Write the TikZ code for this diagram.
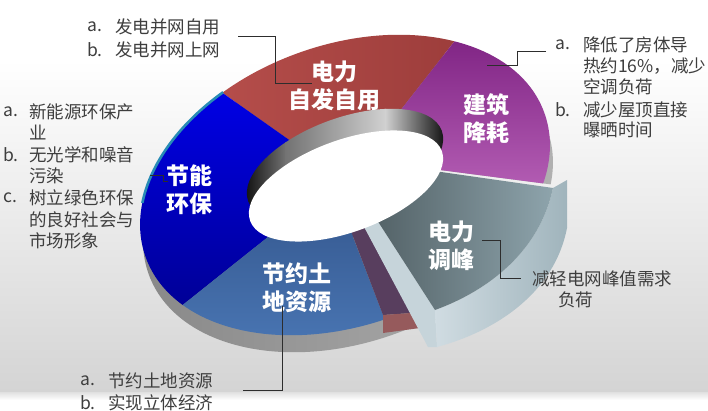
\documentclass[tikz,border=0pt]{standalone}
\usepackage{fontspec}
\setmainfont{Noto Sans CJK SC}
\definecolor{txt}{RGB}{62,62,62}
\definecolor{redL}{RGB}{188,82,79}
\definecolor{redR}{RGB}{155,60,58}
\definecolor{purT}{RGB}{108,14,114}
\definecolor{purB}{RGB}{182,96,182}
\definecolor{bluT}{RGB}{0,0,248}
\definecolor{bluB}{RGB}{0,0,105}
\definecolor{lbT}{RGB}{50,84,138}
\definecolor{lbB}{RGB}{86,136,202}
\definecolor{slL}{RGB}{84,99,104}
\definecolor{slR}{RGB}{142,164,172}
\definecolor{faceL}{RGB}{208,220,226}
\definecolor{faceR}{RGB}{160,180,188}
\definecolor{innerF}{RGB}{198,212,218}
\definecolor{mauve}{RGB}{88,62,94}
\definecolor{redpc}{RGB}{150,90,92}
\definecolor{sideL}{RGB}{135,135,135}
\definecolor{sideR}{RGB}{178,178,178}
\definecolor{tealc}{RGB}{40,140,182}
\definecolor{leadc}{RGB}{45,45,45}
\begin{document}
\begin{tikzpicture}[x=1pt,y=-1pt,
  ringcs/.style={shift={(345,185)}, y=1pt, rotate=20},
  sidecs/.style={shift={(348,202)}, y=1pt, rotate=20},
  rimcs/.style={shift={(345,166)}, y=1pt, rotate=20},
  holecs/.style={shift={(346,186)}, y=1pt, rotate=20},
  co/.style={font=\fontsize{17.5}{21}\selectfont, text=txt, anchor=west, inner sep=0pt},
  seglab/.style={font=\fontsize{23}{28}\selectfont\bfseries, text=white, align=center, inner sep=0pt},
  leader/.style={draw=leadc, line width=0.9pt}]
\useasboundingbox (0,0) rectangle (708,411);
% background
\fill[white] (0,0) rectangle (708,411);
\shade[top color=white, bottom color={rgb,255:red,212;green,212;blue,212}] (0,60) rectangle (708,392);
\shade[top color={rgb,255:red,224;green,224;blue,224}, bottom color=white] (0,392) rectangle (708,400);
% ring side
\begin{scope}
  \clip (346,180) -- (362,223) -- (428,347) -- (432,430) -- (60,430) -- (60,-20) -- (640,-20) -- (640,196) -- (440,170) -- cycle;
  \shade[left color=sideL, right color=sideR, sidecs] (0,0) ellipse [x radius=212, y radius=140];
\end{scope}
% top surface segments
\begin{scope}
  \clip[ringcs] (0,0) ellipse [x radius=212, y radius=140];
  \shade[left color=redL, right color=redR] (346,180) -- (190,70) -- (150,40) -- (150,-20) -- (470,-20) -- (475,15) -- cycle;
  \shade[top color=purT, bottom color=purB] (346,180) -- (475,15) -- (480,-20) -- (640,-20) -- (640,196) -- (440,170) -- cycle;
  \shade[top color=bluT, bottom color=bluB] (346,180) -- (190,70) -- (150,40) -- (60,40) -- (60,430) -- (140,339) -- (273,233) -- cycle;
  \shade[top color=lbT, bottom color=lbB] (346,180) -- (273,233) -- (140,339) -- (100,440) -- (383,440) -- (383,315) -- (353,237) -- cycle;
\end{scope}
% teal lip
\draw[draw=tealc, line width=2.6pt, ringcs] ({212*cos(113)},{140*sin(113)}) arc [start angle=113, end angle=158, x radius=212, y radius=140];
% cut face of the ring
\fill[mauve] (349,226) -- (362,223) -- (411,313) -- (383,315) -- cycle;
\fill[redpc] (383,315) -- (411,313) -- (420,328) -- (383,333) -- cycle;
% exploded wedge
\fill[innerF] (362,223) -- (377,220) -- (435,310) -- (437,347) -- (428,347) -- cycle;
\shade[left color=faceL, right color=faceR] (553,188) -- (567,180) -- (567,228) .. controls (555,290) and (500,330) .. (437,347) -- (435,310) .. controls (490,290) and (540,250) .. (553,188) -- cycle;
\shade[left color=slL, right color=slR] (420,169) -- (553,188) .. controls (540,250) and (490,290) .. (435,310) -- (377,220) -- (400,190) -- cycle;
% hole: inner wall and opening
\begin{scope}
  \clip[rimcs] (0,0) ellipse [x radius=103, y radius=48];
  \shade[left color=black, right color=black!55] (238,90) rectangle (286,240);
  \shade[left color=black!55, right color=black!18] (285,90) rectangle (386,240);
  \shade[left color=black!18, right color=black] (385,90) rectangle (450,240);
\end{scope}
\fill[white, holecs] (0,0) ellipse [x radius=102, y radius=46];
% segment labels
\node[seglab] (sRed) at (334,86) {电力\\自发自用};
\node[seglab] (sPur) at (486,119) {建筑\\降耗};
\node[seglab] (sBlu) at (189,190) {节能\\环保};
\node[seglab] (sLb) at (297,288) {节约土\\地资源};
\node[seglab] (sSl) at (451,246) {电力\\调峰};
% callouts: top left
\node[co] (c1a) at (87,27) {a.};
\node[co] (c1at) at (115,27) {发电并网自用};
\node[co] (c1b) at (87,50) {b.};
\node[co] (c1bt) at (115,50) {发电并网上网};
% callouts: left
\node[co] (c2a) at (3,112) {a.};
\node[co] (c2at) at (29,112) {新能源环保产};
\node[co] (c2at2) at (29,133) {业};
\node[co] (c2b) at (3,155) {b.};
\node[co] (c2bt) at (29,155) {无光学和噪音};
\node[co] (c2bt2) at (29,176) {污染};
\node[co] (c2c) at (3,198) {c.};
\node[co] (c2ct) at (29,198) {树立绿色环保};
\node[co] (c2ct2) at (29,220) {的良好社会与};
\node[co] (c2ct3) at (29,241) {市场形象};
% callouts: top right
\node[co] (c3a) at (555,45) {a.};
\node[co] (c3at) at (583,45) {降低了房体导};
\node[co] (c3at2) at (583,66) {热约16\%，减少};
\node[co] (c3at3) at (583,87) {空调负荷};
\node[co] (c3b) at (555,110) {b.};
\node[co] (c3bt) at (583,110) {减少屋顶直接};
\node[co] (c3bt2) at (583,130) {曝晒时间};
% callout: wedge
\node[co] (c4t) at (532,279) {减轻电网峰值需求};
\node[co] (c4t2) at (558,300) {负荷};
% callouts: bottom
\node[co] (c5a) at (80,381) {a.};
\node[co] (c5at) at (108,381) {节约土地资源};
\node[co] (c5b) at (80,403) {b.};
\node[co] (c5bt) at (108,403) {实现立体经济};
% leader lines
\coordinate (L1s) at (238,36); \coordinate (L1e) at (312,83);
\coordinate (L2s) at (546,51); \coordinate (L2e) at (487,65);
\coordinate (L3s) at (150,175); \coordinate (L3e) at (168,181);
\coordinate (L4s) at (482,240); \coordinate (L4e) at (521,278);
\coordinate (L5s) at (282,306); \coordinate (L5e) at (243,390);
\draw[leader] (L1s) -- ++(37,0) |- (L1e);
\draw[leader] (L2s) -- ++(-29,0) |- (L2e);
\draw[leader] (L3s) -- ++(13,0) |- (L3e);
\draw[leader] (L4s) -- ++(18,0) |- (L4e);
\draw[leader] (L5s) |- (L5e);
\end{tikzpicture}
\end{document}
